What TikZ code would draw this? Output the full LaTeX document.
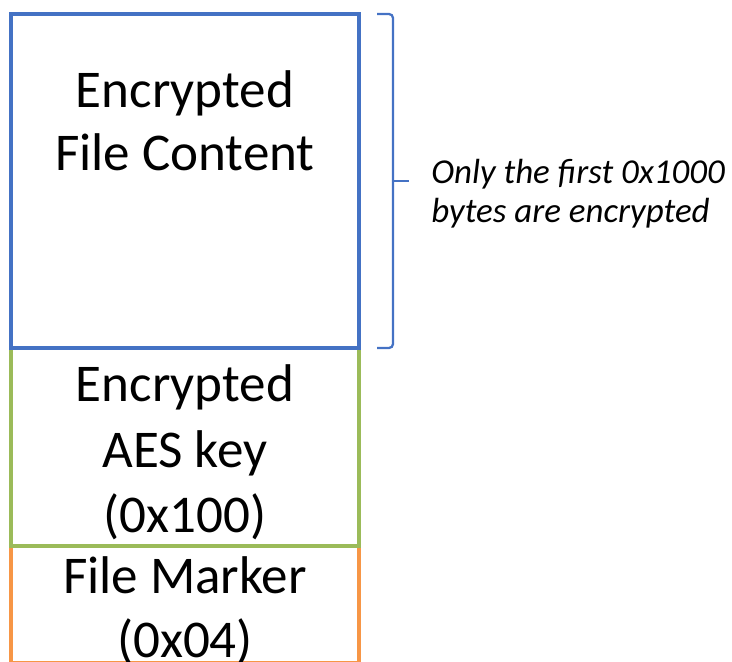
\documentclass[tikz,border=0pt]{standalone}
\usepackage{fontspec}
\setmainfont{Carlito}
\definecolor{officeblue}{HTML}{4472C4}
\definecolor{officegreen}{HTML}{9BBB59}
\definecolor{officeorange}{HTML}{F79646}
\begin{document}
\begin{tikzpicture}[x=0.75pt,y=-0.75pt,
  block/.style={line width=3pt},
  label/.style={inner sep=0pt,anchor=base,font=\fontsize{39.8pt}{47pt}\selectfont},
  note/.style={inner sep=0pt,anchor=base west,font=\fontsize{26.2pt}{31pt}\selectfont\itshape},
  bracket/.style={draw=officeblue,line width=1.7pt,rounded corners=3}]
  \useasboundingbox (0,0) rectangle (732,661);
  \begin{scope}
    \clip (0,0) rectangle (732,661);
    % file layout, last segment first so upper borders sit on top
    \draw[block,officeorange] (11,546) rectangle (359,662.5);
    \draw[block,officegreen] (11,348) rectangle (359,546);
    \draw[block,officeblue] (11,14) rectangle (359,348);
  \end{scope}
  % segment labels
  \node[label] (c1) at (185,107) {Encrypted};
  \node[label] (c2) at (185,170) {File Content};
  \node[label] (k1) at (185,401) {Encrypted};
  \node[label] (k2) at (185,467) {AES key};
  \node[label] (k3) at (185,532) {(0x100)};
  \node[label] (m1) at (185,593) {File Marker};
  \node[label] (m2) at (185,657) {(0x04)};
  % bracket over the encrypted part
  \coordinate (bt) at (377,14);
  \coordinate (bb) at (377,348);
  \coordinate (tip) at (409,181);
  \draw[bracket] (bt) -- (393,14) -- (393,348) -- (bb);
  \draw[bracket] (393,181) -- (tip);
  \node[note] (n1) at (431,183) {Only the first 0x1000};
  \node[note] (n2) at (431,222) {bytes are encrypted};
\end{tikzpicture}
\end{document}
